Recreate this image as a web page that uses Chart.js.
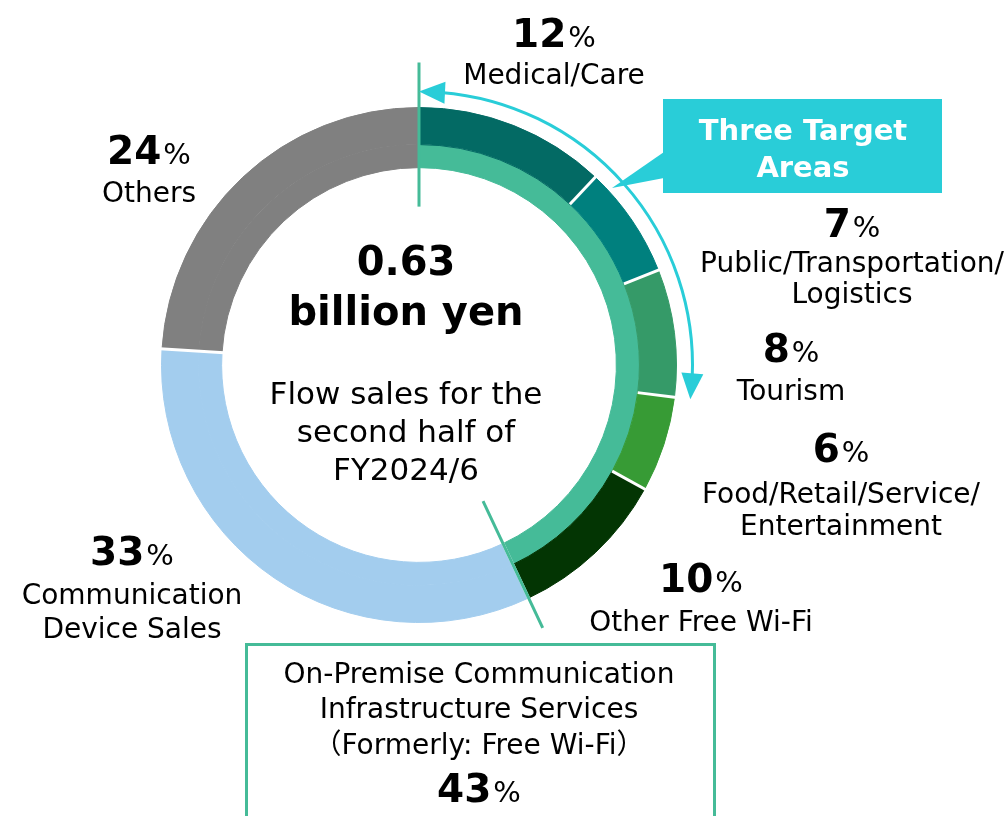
<!DOCTYPE html>
<html>
<head>
<meta charset="utf-8">
<script src="https://cdn.jsdelivr.net/npm/chart.js@4.4.1/dist/chart.umd.min.js"></script>
<style>
  html, body { margin: 0; padding: 0; background: #ffffff; }
  #wrap { width: 1007px; height: 816px; position: relative; }
</style>
</head>
<body>
<div id="wrap"><canvas id="c"></canvas></div>
<script>
// ---- data ----
const categories = ['Medical/Care', 'Public/Transportation/Logistics', 'Tourism',
  'Food/Retail/Service/Entertainment', 'Other Free Wi-Fi', 'Communication Device Sales', 'Others'];
const shares = [12, 7, 8, 6, 10, 33, 24];
const groupLabels = ['On-Premise Communication Infrastructure Services', 'Communication Device Sales', 'Others'];
const groupShares = [43, 33, 24];
const totalValue = '0.63';
const totalUnit = 'billion yen';
const centerLines = ['Flow sales for the', 'second half of', 'FY2024/6'];
const targetAreasTitle = ['Three Target', 'Areas'];
const boxLines = ['On-Premise Communication', 'Infrastructure Services', 'Formerly: Free Wi-Fi'];

// ---- styles ----
const segColors = ['#036a64', '#00807e', '#359a68', '#379b35', '#033503', '#a3cdee', '#808080'];
const groupColors = ['#45bb98', '#a3cdee', '#808080'];
const CYAN = '#29cdd8';
const TEAL = '#45bb98';
const FONT = "'DejaVu Sans', 'Noto Sans CJK JP', sans-serif";
const CJK = "'Noto Sans CJK JP', sans-serif";

// label layout (center x, baselines)
const labelLayout = [
  { cx: 554, numBase: 47, lines: [['Medical/Care', 84]] },
  { cx: 852, numBase: 237, lines: [['Public/Transportation/', 272], ['Logistics', 303]] },
  { cx: 791, numBase: 362, lines: [['Tourism', 400]] },
  { cx: 841, numBase: 462, lines: [['Food/Retail/Service/', 503], ['Entertainment', 535]] },
  { cx: 701, numBase: 592, lines: [['Other Free Wi-Fi', 631]] },
  { cx: 132, numBase: 565, lines: [['Communication', 604], ['Device Sales', 638]] },
  { cx: 149, numBase: 164, lines: [['Others', 202]] }
];

function pct(ctx, value, cx, base, numSize, pSize) {
  ctx.save();
  ctx.textBaseline = 'alphabetic';
  ctx.textAlign = 'left';
  ctx.font = 'bold ' + numSize + 'px ' + FONT;
  const wN = ctx.measureText(String(value)).width;
  ctx.font = pSize + 'px ' + FONT;
  const wP = ctx.measureText('%').width;
  const gap = 2;
  const x0 = cx - (wN + gap + wP) / 2;
  ctx.fillStyle = '#000';
  ctx.font = 'bold ' + numSize + 'px ' + FONT;
  ctx.fillText(String(value), x0, base);
  ctx.font = pSize + 'px ' + FONT;
  ctx.fillText('%', x0 + wN + gap, base);
  ctx.restore();
}

function radial(ctx, cx, cy, ang, r0, r1) {
  ctx.beginPath();
  ctx.moveTo(cx + Math.cos(ang) * r0, cy + Math.sin(ang) * r0);
  ctx.lineTo(cx + Math.cos(ang) * r1, cy + Math.sin(ang) * r1);
  ctx.stroke();
}

function arrowHead(ctx, cx, cy, R, tipAng, backSign, len, halfW) {
  const tx = cx + Math.cos(tipAng) * R, ty = cy + Math.sin(tipAng) * R;
  const bAng = tipAng + backSign * len / R;
  const bx = cx + Math.cos(bAng) * R, by = cy + Math.sin(bAng) * R;
  let dx = tx - bx, dy = ty - by;
  const L = Math.hypot(dx, dy); dx /= L; dy /= L;
  const px = -dy, py = dx;
  ctx.beginPath();
  ctx.moveTo(tx, ty);
  ctx.lineTo(bx + px * halfW, by + py * halfW);
  ctx.lineTo(bx - px * halfW, by - py * halfW);
  ctx.closePath();
  ctx.fill();
}

const overlay = {
  id: 'overlay',
  afterDatasetsDraw(chart) {
    const ctx = chart.ctx;
    const arcs = chart.getDatasetMeta(0).data;
    const inner = chart.getDatasetMeta(1).data;
    const cx = arcs[0].x, cy = arcs[0].y;
    const rOut = arcs[0].outerRadius, rMid = arcs[0].innerRadius, rIn = inner[0].innerRadius;

    // white separators
    ctx.save();
    ctx.strokeStyle = '#ffffff';
    ctx.lineWidth = 3;
    for (let i = 1; i <= 4; i++) radial(ctx, cx, cy, arcs[i].startAngle, rMid, rOut + 2);
    for (let i = 5; i <= 6; i++) radial(ctx, cx, cy, arcs[i].startAngle, rIn - 2, rOut + 2);
    ctx.restore();

    // teal boundary lines of the on-premise group
    ctx.save();
    ctx.strokeStyle = TEAL;
    ctx.lineWidth = 3;
    radial(ctx, cx, cy, arcs[0].startAngle, rIn - 39, rOut + 45);
    radial(ctx, cx, cy, arcs[5].startAngle, rIn - 47, rOut + 33);
    ctx.restore();

    // cyan double arrow over the three target areas
    const Ra = rOut + 16;
    const a0 = arcs[0].startAngle, a1 = arcs[2].endAngle;
    const hl = 26, hw = 11;
    ctx.save();
    ctx.strokeStyle = CYAN;
    ctx.fillStyle = CYAN;
    ctx.lineWidth = 3;
    ctx.beginPath();
    ctx.arc(cx, cy, Ra, a0 + (hl - 4) / Ra, a1 - (hl - 4) / Ra);
    ctx.stroke();
    arrowHead(ctx, cx, cy, Ra, a0, +1, hl, hw);
    arrowHead(ctx, cx, cy, Ra, a1, -1, hl, hw);

    // callout
    ctx.beginPath();
    ctx.moveTo(664, 152);
    ctx.lineTo(612, 188);
    ctx.lineTo(664, 178);
    ctx.closePath();
    ctx.fill();
    ctx.fillRect(663, 99, 279, 94);
    ctx.fillStyle = '#ffffff';
    ctx.font = 'bold 29px ' + FONT;
    ctx.textAlign = 'center';
    ctx.textBaseline = 'alphabetic';
    ctx.fillText(targetAreasTitle[0], 803, 140);
    ctx.fillText(targetAreasTitle[1], 803, 177);
    ctx.restore();

    // bottom box
    ctx.save();
    ctx.strokeStyle = TEAL;
    ctx.lineWidth = 3;
    ctx.strokeRect(246.5, 644.5, 468, 200);
    ctx.fillStyle = '#000';
    ctx.font = '28px ' + FONT;
    ctx.textAlign = 'center';
    ctx.textBaseline = 'alphabetic';
    ctx.fillText(boxLines[0], 479, 683);
    ctx.fillText(boxLines[1], 479, 718);
    // third line with full-width parentheses
    ctx.textAlign = 'left';
    ctx.font = '28px ' + CJK;
    const wL = ctx.measureText('\uFF08').width;
    const wR = ctx.measureText('\uFF09').width;
    ctx.font = '28px ' + FONT;
    const wM = ctx.measureText(boxLines[2]).width;
    let x = 479 - (wL + wM + wR) / 2;
    ctx.font = '28px ' + CJK;
    ctx.fillText('\uFF08', x, 754);
    ctx.font = '28px ' + FONT;
    ctx.fillText(boxLines[2], x + wL, 754);
    ctx.font = '28px ' + CJK;
    ctx.fillText('\uFF09', x + wL + wM, 754);
    ctx.restore();
    pct(ctx, groupShares[0], 479, 802, 39, 29);

    // center text
    ctx.save();
    ctx.fillStyle = '#000';
    ctx.textAlign = 'center';
    ctx.textBaseline = 'alphabetic';
    ctx.font = 'bold 40px ' + FONT;
    ctx.fillText(totalValue, 406, 275);
    ctx.fillText(totalUnit, 406, 325);
    ctx.font = '31px ' + FONT;
    ctx.fillText(centerLines[0], 406, 404);
    ctx.fillText(centerLines[1], 406, 442);
    ctx.fillText(centerLines[2], 406, 480);
    ctx.restore();

    // segment labels
    labelLayout.forEach((lab, i) => {
      pct(ctx, shares[i], lab.cx, lab.numBase, 39, 29);
      ctx.save();
      ctx.fillStyle = '#000';
      ctx.font = '28px ' + FONT;
      ctx.textAlign = 'center';
      ctx.textBaseline = 'alphabetic';
      lab.lines.forEach(([t, b]) => ctx.fillText(t, lab.cx, b));
      ctx.restore();
    });
  }
};

new Chart(document.getElementById('c'), {
  type: 'doughnut',
  data: {
    labels: categories,
    datasets: [
      { data: shares, backgroundColor: segColors, borderColor: segColors, borderWidth: 1, weight: 37 },
      { data: groupShares, backgroundColor: groupColors, borderColor: groupColors, borderWidth: 1, weight: 23 }
    ]
  },
  options: {
    responsive: true,
    maintainAspectRatio: false,
    animation: false,
    events: [],
    cutout: '76.65%',
    layout: { padding: { left: 161, top: 107, right: 330, bottom: 193 } },
    plugins: { legend: { display: false }, tooltip: { enabled: false }, title: { display: false } }
  },
  plugins: [overlay]
});
</script>
</body>
</html>
